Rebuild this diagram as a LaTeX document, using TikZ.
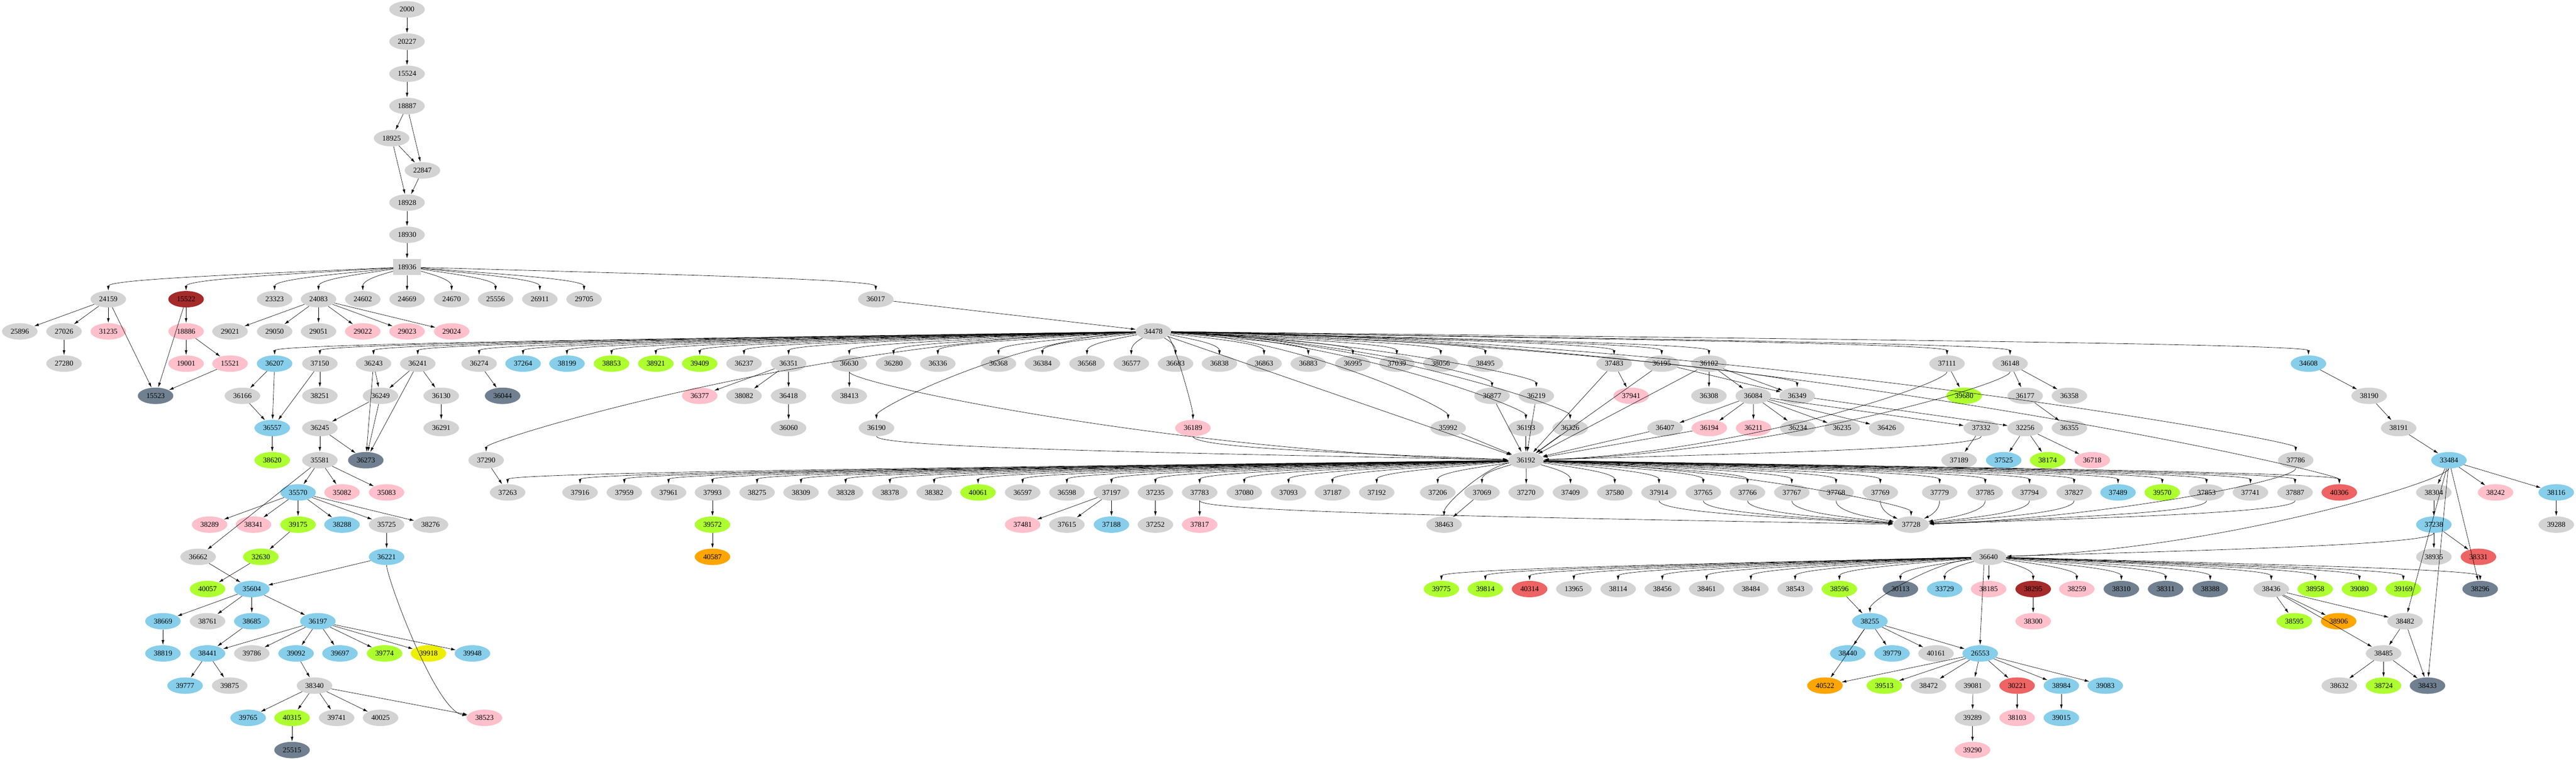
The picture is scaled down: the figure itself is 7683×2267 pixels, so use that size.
\documentclass[tikz,border=0pt]{standalone}
\usepackage{fontspec}
\setmainfont{Liberation Serif}
\usetikzlibrary{arrows.meta,shapes.geometric,calc}
\definecolor{cg}{HTML}{D3D3D3}
\definecolor{cb}{HTML}{87CEEB}
\definecolor{cl}{HTML}{ADFF2F}
\definecolor{cp}{HTML}{FFC0CB}
\definecolor{cbr}{HTML}{A52A2A}
\definecolor{cs}{HTML}{708090}
\definecolor{cr}{HTML}{EE6363}
\definecolor{co}{HTML}{FFA500}
\definecolor{cy}{HTML}{EEEE00}
\newcommand\N[4][cg]{\node[nd,fill=#1] (n#2) at (#3,{28+96.1*#4}) {#2};}
\newcommand\E[2]{\foreach \t in {#2}{\draw[ed] (n#1) -- (n\t);}}
% fan out: leave source nearly horizontally, arrive at target from above
\newcommand\F[2]{\foreach \t in {#2}{\draw[ed] (n#1) .. controls ($(n#1)!0.5!(n#1 -| n\t)+(0,20)$) and ($(n\t)+(0,-60)$) .. (n\t);}}
% fan in: leave source downward, arrive at target nearly horizontally
\newcommand\G[2]{\foreach \s in {#2}{\draw[ed] (n\s) .. controls ($(n\s)+(0,60)$) and ($(n#1)!0.5!(n#1 -| n\s)+(0,-20)$) .. (n#1);}}
\begin{document}
\begin{tikzpicture}[x=1pt,y=-1pt,
  nd/.style={ellipse,draw=none,minimum width=106pt,minimum height=49pt,inner sep=0pt,font=\fontsize{22}{22}\selectfont},
  ed/.style={-{Latex[length=14pt,width=8pt]},line width=1pt,shorten >=1pt}]
\useasboundingbox (0,0) rectangle (7683,2267);
% ranks 0-8
\N{2000}{1214}{0}\N{20227}{1214}{1}\N{15524}{1214}{2}\N{18887}{1214}{3}
\N{18925}{1168}{4}\N{22847}{1260}{5}\N{18928}{1214}{6}\N{18930}{1214}{7}
\node[nd,rectangle,minimum width=82pt,fill=cg] (n18936) at (1214,{28+96.1*8}) {18936};
% r9
\N{24159}{323}{9}\N[cbr]{15522}{555}{9}\N{23323}{819}{9}\N{24083}{950}{9}\N{24602}{1082}{9}
\N{24669}{1214}{9}\N{24670}{1347}{9}\N{25556}{1478}{9}\N{26911}{1610}{9}\N{29705}{1742}{9}\N{36017}{2612}{9}
% r10
\N{25896}{59}{10}\N{27026}{191}{10}\N[cp]{31235}{323}{10}\N[cp]{18886}{555}{10}\N{29021}{686}{10}
\N{29050}{819}{10}\N{29051}{950}{10}\N[cp]{29022}{1082}{10}\N[cp]{29023}{1214}{10}\N[cp]{29024}{1347}{10}
\N{34478}{3440}{10}
% r11
\N{27280}{191}{11}\N[cp]{19001}{555}{11}\N[cp]{15521}{686}{11}\N[cb]{36207}{819}{11}\N{37150}{954}{11}
\N{36243}{1114}{11}\N{36241}{1246}{11}\N{36274}{1429}{11}\N[cb]{37264}{1560}{11}\N[cb]{38199}{1691}{11}
\N[cl]{38853}{1824}{11}\N[cl]{38921}{1956}{11}\N[cl]{39409}{2087}{11}\N{36237}{2219}{11}\N{36351}{2352}{11}
\N{36630}{2533}{11}\N{36280}{2665}{11}\N{36336}{2797}{11}\N{36368}{2978}{11}\N{36384}{3109}{11}
\N{36568}{3242}{11}\N{36577}{3374}{11}\N{36683}{3506}{11}\N{36838}{3637}{11}\N{36863}{3770}{11}
\N{36883}{3902}{11}\N{36995}{4035}{11}\N{37039}{4166}{11}\N{38056}{4297}{11}\N{38495}{4430}{11}
\N{37483}{4814}{11}\N{36195}{4956}{11}\N{36102}{5097}{11}\N{37111}{5807}{11}\N{36148}{5995}{11}\N[cb]{34608}{6885}{11}
% r12
\N[cs]{15523}{464}{12}\N{36166}{723}{12}\N{38251}{954}{12}\N{36249}{1135}{12}\N{36130}{1316}{12}\N[cs]{36044}{1499}{12}
\N[cp]{36377}{2087}{12}\N{38082}{2219}{12}\N{36418}{2352}{12}\N{38413}{2533}{12}\N{36877}{4450}{12}\N{36219}{4582}{12}
\N[cp]{37941}{4865}{12}\N{36308}{5097}{12}\N{36084}{5229}{12}\N{36349}{5360}{12}\N[cl]{39680}{5858}{12}
\N{36177}{6040}{12}\N{36358}{6172}{12}\N{38190}{7066}{12}
% r13
\N[cb]{36557}{812}{13}\N{36245}{954}{13}\N{36291}{1316}{13}\N{36060}{2352}{13}\N{36190}{2614}{13}\N[cp]{36189}{3558}{13}
\N{35992}{4319}{13}\N{36193}{4551}{13}\N{36326}{4683}{13}\N{36407}{4966}{13}\N[cp]{36194}{5098}{13}\N[cp]{36211}{5230}{13}
\N{36234}{5362}{13}\N{36235}{5494}{13}\N{36426}{5627}{13}\N{37332}{5909}{13}\N{32256}{6040}{13}\N{36355}{6172}{13}\N{38191}{7154}{13}
% r14
\N[cl]{38620}{812}{14}\N{35581}{954}{14}\N[cs]{36273}{1091}{14}\N{37290}{1450}{14}\N{36192}{4551}{14}
\N{37189}{5843}{14}\N[cb]{37525}{5976}{14}\N[cl]{38174}{6107}{14}\N[cp]{36718}{6240}{14}\N{37786}{6847}{14}\N[cb]{33484}{7304}{14}
% r15
\N[cb]{35570}{889}{15}\N[cp]{35082}{1020}{15}\N[cp]{35083}{1153}{15}\N{37263}{1514}{15}\N{37916}{1730}{15}
\N{37959}{1862}{15}\N{37961}{1994}{15}\N{37993}{2125}{15}\N{38275}{2258}{15}\N{38309}{2389}{15}\N{38328}{2522}{15}
\N{38378}{2654}{15}\N{38382}{2786}{15}\N[cl]{40061}{2917}{15}\N{36597}{3050}{15}\N{36598}{3182}{15}\N{37197}{3315}{15}
\N{37235}{3446}{15}\N{37783}{3578}{15}\N{37080}{3711}{15}\N{37093}{3843}{15}\N{37187}{3974}{15}\N{37192}{4106}{15}
\N{37206}{4288}{15}\N{37069}{4420}{15}\N{37270}{4552}{15}\N{37409}{4684}{15}\N{37580}{4816}{15}\N{37914}{4948}{15}
\N{37765}{5080}{15}\N{37766}{5212}{15}\N{37767}{5344}{15}\N{37768}{5476}{15}\N{37769}{5608}{15}\N{37779}{5785}{15}
\N{37785}{5921}{15}\N{37794}{6053}{15}\N{37827}{6186}{15}\N[cb]{37489}{6317}{15}\N[cl]{39570}{6449}{15}\N{37853}{6581}{15}
\N{37741}{6712}{15}\N{37887}{6845}{15}\N[cr]{40306}{6977}{15}\N{38304}{7259}{15}\N[cp]{38242}{7443}{15}\N[cb]{38116}{7624}{15}
% r16
\N[cp]{38289}{625}{16}\N[cp]{38341}{756}{16}\N[cl]{39175}{889}{16}\N[cb]{38288}{1020}{16}\N{35725}{1153}{16}\N{38276}{1284}{16}
\N[cl]{39572}{2125}{16}\N[cp]{37481}{3050}{16}\N{37615}{3182}{16}\N[cb]{37188}{3315}{16}\N{37252}{3446}{16}\N[cp]{37817}{3578}{16}
\N{38463}{4307}{16}\N{37728}{5700}{16}\N[cb]{37238}{7259}{16}\N{39288}{7624}{16}
% r17
\N{36662}{591}{17}\N[cl]{32630}{778}{17}\N[cb]{36221}{1153}{17}\N[co]{40587}{2125}{17}\N{36640}{5931}{17}
\N{38935}{7259}{17}\N[cr]{38331}{7392}{17}
% r18
\N[cl]{40057}{619}{18}\N[cb]{35604}{751}{18}\N[cl]{39775}{4299}{18}\N[cl]{39814}{4430}{18}\N[cr]{40314}{4562}{18}
\N{13965}{4694}{18}\N{38114}{4826}{18}\N{38456}{4958}{18}\N{38461}{5090}{18}\N{38484}{5222}{18}\N{38543}{5354}{18}
\N[cl]{38596}{5486}{18}\N[cs]{30113}{5668}{18}\N[cb]{33729}{5800}{18}\N[cp]{38185}{5931}{18}\N[cbr]{38295}{6064}{18}
\N[cp]{38259}{6194}{18}\N[cs]{38310}{6327}{18}\N[cs]{38311}{6459}{18}\N[cs]{38388}{6592}{18}\N{38436}{6774}{18}
\N[cl]{38958}{6905}{18}\N[cl]{39080}{7037}{18}\N[cl]{39169}{7168}{18}\N[cs]{38296}{7397}{18}
% r19
\N[cb]{38669}{486}{19}\N{38761}{619}{19}\N[cb]{38685}{751}{19}\N[cb]{36197}{948}{19}\N[cb]{38255}{5577}{19}
\N[cp]{38300}{6064}{19}\N[cl]{38595}{6843}{19}\N[co]{38906}{6975}{19}\N{38482}{7173}{19}
% r20
\N[cb]{38819}{486}{20}\N[cb]{38441}{619}{20}\N{39786}{751}{20}\N[cb]{39092}{883}{20}\N[cb]{39697}{1014}{20}
\N[cl]{39774}{1147}{20}\N[cy]{39918}{1278}{20}\N[cb]{39948}{1409}{20}\N[cb]{38440}{5511}{20}\N[cb]{39779}{5643}{20}
\N{40161}{5774}{20}\N[cb]{26553}{5906}{20}\N{38485}{7109}{20}
% r21
\N[cb]{39777}{552}{21}\N{39875}{685}{21}\N{38340}{938}{21}\N[co]{40522}{5443}{21}\N[cl]{39513}{5620}{21}
\N{38472}{5752}{21}\N{39081}{5884}{21}\N[cr]{30221}{6016}{21}\N[cb]{38984}{6148}{21}\N[cb]{39083}{6279}{21}
\N{38632}{6977}{21}\N[cl]{38724}{7109}{21}\N[cs]{38433}{7240}{21}
% r22
\N[cb]{39765}{740}{22}\N[cl]{40315}{871}{22}\N{39741}{1004}{22}\N{40025}{1135}{22}\N[cp]{38523}{1445}{22}
\N{39289}{5883}{22}\N[cp]{38103}{6016}{22}\N[cb]{39015}{6148}{22}
% r23
\N[cs]{25515}{871}{23}\N[cp]{39290}{5883}{23}
% edges
\E{2000}{20227}\E{20227}{15524}\E{15524}{18887}\E{18887}{18925,22847}\E{18925}{22847,18928}
\E{22847}{18928}\E{18928}{18930}\E{18930}{18936}
\F{18936}{24159,15522,23323,24083,24602,24669,24670,25556,26911,29705,36017}
\E{24159}{25896,27026,31235,15523}\E{27026}{27280}\E{15522}{18886,15523}\E{18886}{19001,15521}\E{15521}{15523}
\E{24083}{29021,29050,29051,29022,29023,29024}\E{36017}{34478}
\F{34478}{36207,37150,36243,36241,36274,37264,38199,38853,38921,39409,36237,36351,36630,36280,36336,36368,36384,36568,36577,36683,36838,36863,36883,36995,37039,38056,38495,37483,36195,36102,37111,36148,34608}
\F{34478}{37290,36190,36189,35992,36877,36219,36193,36326,36349,37786,40306}
\E{34478}{36192}
\E{36207}{36166,36557}\E{36166}{36557}\E{37150}{36557,38251}\E{36243}{36249,36273}\E{36241}{36249,36273,36130}
\E{36249}{36245,36273}\E{36245}{35581,36273}\E{36130}{36291}\E{36274}{36044}\E{36557}{38620}
\E{35581}{36662,35570,35082,35083}\E{35570}{38289,38341,39175,38288,35725,38276}\E{39175}{32630}\E{35725}{36221}
\E{36662}{35604}\E{32630}{40057}\E{36221}{35604}\G{38523}{36221}\E{35604}{38669,38761,38685,36197}\E{38669}{38819}\E{38685}{38441}
\E{36197}{38441,39786,39092,39697,39774,39918,39948}\E{38441}{39777,39875}\E{39092}{38340}
\E{38340}{39765,40315,39741,40025,38523}\E{40315}{25515}
\E{36351}{36377,38082,36418}\E{36418}{36060}\E{36630}{38413}\G{36192}{36630,36190,36189}
\E{35992}{36192}\E{36877}{36192}\E{36219}{36192}\E{36193}{36192}\E{36326}{36192}\E{37483}{37941,36192}
\E{36195}{36349,36192}\E{36102}{36308,36084,36349,36192}\E{36407}{36192}\E{36194}{36192}
\E{36084}{36407,36194,36211,36234,36235,36426,37332}\E{36349}{32256}
\E{37111}{39680}\G{36192}{37111,36148,37332}\E{36148}{36177,36358}\E{36177}{36355}\E{37332}{37189}\E{32256}{37525,38174,36718}
\E{34608}{38190}\E{38190}{38191}\E{38191}{33484}\E{37290}{37263}
\F{36192}{37263,37916,37959,37961,37993,38275,38309,38328,38378,38382,40061,36597,36598,37197,37235,37783,37080,37093,37187,37192,37206,37069,37270,37409,37580,37914,37765,37766,37767,37768,37769,37779,37785,37794,37827,37489,39570,37853,37741,37887,40306,38463,37728}
\E{37993}{39572}\E{39572}{40587}\E{37197}{37481,37615,37188}\E{37235}{37252}\E{37783}{37817}\E{37069}{38463}
\G{37728}{37783,37914,37765,37766,37767,37768,37769,37779,37785,37794,37827,37853,37887,37786}
\E{33484}{38304,38242,38116,38482,38296,38433}\G{36640}{33484,37238}\E{38304}{37238}\E{38116}{39288}\E{37238}{38935,38331}
\F{36640}{39775,39814,40314,13965,38114,38456,38461,38484,38543,38596,30113,33729,38185,38295,38259,38310,38311,38388,38436,38958,39080,39169,38296,38255,26553}
\E{38295}{38300}\E{38436}{38595,38906,38482,38485}\E{38482}{38485,38433}\E{38485}{38632,38724,38433}
\E{38596}{38255}\E{38255}{40522,38440,39779,40161,26553}\E{26553}{40522,39513,38472,39081,30221,38984,39083}
\E{39081}{39289}\E{39289}{39290}\E{30221}{38103}\E{38984}{39015}
\end{tikzpicture}
\end{document}
